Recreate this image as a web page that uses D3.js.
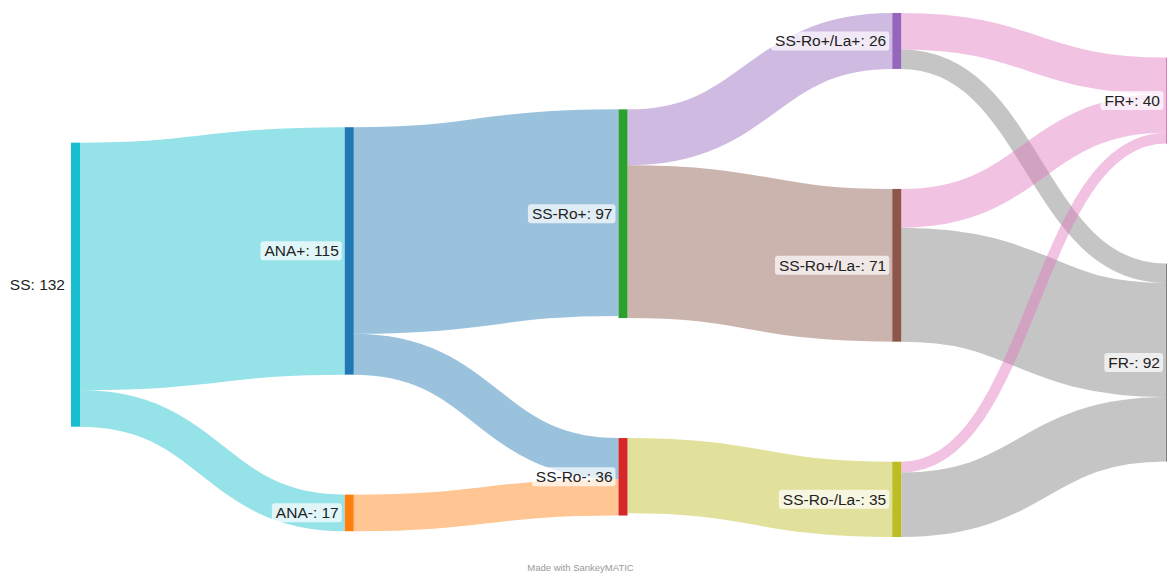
<!DOCTYPE html>
<html>
<head>
<meta charset="utf-8">
<script src="https://cdn.jsdelivr.net/npm/d3@7"></script>
<style>
  html, body { margin: 0; padding: 0; background: #fff; }
  svg { display: block; }
</style>
</head>
<body>
<svg id="chart" width="1167" height="577"></svg>
<script>
// ---------------- DATA ----------------
const nodeNames = ["SS", "ANA+", "ANA-", "SS-Ro+", "SS-Ro-", "SS-Ro+/La+", "SS-Ro+/La-", "SS-Ro-/La-", "FR+", "FR-"];
const linkSources = ["SS", "SS", "ANA+", "ANA+", "ANA-", "SS-Ro+", "SS-Ro+", "SS-Ro-", "SS-Ro+/La+", "SS-Ro+/La+", "SS-Ro+/La-", "SS-Ro+/La-", "SS-Ro-/La-", "SS-Ro-/La-"];
const linkTargets = ["ANA+", "ANA-", "SS-Ro+", "SS-Ro-", "SS-Ro-", "SS-Ro+/La+", "SS-Ro+/La-", "SS-Ro-/La-", "FR+", "FR-", "FR+", "FR-", "FR+", "FR-"];
const linkValues  = [115, 17, 96, 19, 17, 26, 71, 35, 17, 9, 18, 53, 5, 30];
const footerText = "Made with SankeyMATIC";

// ---------------- STYLE / LAYOUT SETTINGS ----------------
const W = 1167, H = 577;
const extent = { x0: 71, x1: 1175, y0: 13, y1: 537 };
const nodeWidth = 9;
const nodePadding = 120;
const iterations = 400;
const colorOrder = ["ANA+", "ANA-", "SS-Ro+", "SS-Ro-", "SS-Ro+/La+", "SS-Ro+/La-", "FR+", "FR-", "SS-Ro-/La-", "SS"];
const color = d3.scaleOrdinal().domain(colorOrder).range(d3.schemeCategory10);

// ---------------- SANKEY LAYOUT ----------------
const nodes = nodeNames.map((name, i) => ({ name, index: i, sourceLinks: [], targetLinks: [] }));
const byName = new Map(nodes.map(n => [n.name, n]));
const links = linkValues.map((v, i) => ({
  index: i, value: v, source: byName.get(linkSources[i]), target: byName.get(linkTargets[i])
}));
links.forEach(l => { l.source.sourceLinks.push(l); l.target.targetLinks.push(l); });
nodes.forEach(n => n.value = Math.max(d3.sum(n.sourceLinks, l => l.value), d3.sum(n.targetLinks, l => l.value)));

// depths / layers (justify)
let nLayers = 0;
{
  let current = new Set(nodes), next = new Set();
  while (current.size) {
    for (const n of current) { n.depth = nLayers; for (const l of n.sourceLinks) next.add(l.target); }
    nLayers++; current = next; next = new Set();
  }
}
nodes.forEach(n => n.layer = n.sourceLinks.length ? n.depth : nLayers - 1);

const xScale = d3.scaleLinear().domain([0, nLayers - 1]).range([extent.x0, extent.x1 - nodeWidth]);
const columns = d3.range(nLayers).map(() => []);
nodes.forEach(n => { columns[n.layer].push(n); n.x0 = xScale(n.layer); n.x1 = n.x0 + nodeWidth; });

const py = Math.min(nodePadding, (extent.y1 - extent.y0) / (d3.max(columns, c => c.length) - 1));
const ky = d3.min(columns, c => (extent.y1 - extent.y0 - (c.length - 1) * py) / d3.sum(c, n => n.value));
const hScale = d3.scaleLinear().domain([0, 1]).range([0, ky]);
links.forEach(l => l.width = hScale(l.value));

const byBreadth = (a, b) => a.y0 - b.y0;
function sortAllLinks() {
  for (const n of nodes) {
    n.sourceLinks.sort((a, b) => byBreadth(a.target, b.target) || a.index - b.index);
    n.targetLinks.sort((a, b) => byBreadth(a.source, b.source) || a.index - b.index);
  }
}
const offsetIn = (list, link) => { let o = 0; for (const l of list) { if (l === link) break; o += l.width; } return o; };

// initial stacking
for (const col of columns) {
  let y = extent.y0;
  for (const n of col) { n.y0 = y; n.y1 = y + hScale(n.value); y = n.y1 + py; }
}

// least-squares relaxation: each column placed so links are as straight as possible,
// with non-overlap (padding) constraints solved by pooling adjacent violators.
function placeColumn(col) {
  sortAllLinks();
  const items = col.map(n => {
    let s = 0, w = 0;
    for (const l of n.targetLinks) {
      s += l.value * (l.source.y0 + offsetIn(l.source.sourceLinks, l) - offsetIn(n.targetLinks, l)); w += l.value;
    }
    for (const l of n.sourceLinks) {
      s += l.value * (l.target.y0 + offsetIn(l.target.targetLinks, l) - offsetIn(n.sourceLinks, l)); w += l.value;
    }
    return { n, d: w ? s / w : n.y0, w: w || 1e-9 };
  });
  items.sort((a, b) => a.d - b.d);
  let off = 0;
  items.forEach(it => { it.off = off; off += hScale(it.n.value) + py; });
  const last = items[items.length - 1];
  const lo = extent.y0;
  const hi = extent.y1 - last.off - hScale(last.n.value);
  const blocks = [];
  for (const it of items) {
    blocks.push({ v: it.d - it.off, w: it.w, items: [it] });
    while (blocks.length > 1 && blocks[blocks.length - 2].v > blocks[blocks.length - 1].v) {
      const b = blocks.pop(), a = blocks[blocks.length - 1];
      a.v = (a.v * a.w + b.v * b.w) / (a.w + b.w); a.w += b.w; a.items.push(...b.items);
    }
  }
  for (const b of blocks) {
    const z = Math.max(lo, Math.min(hi, b.v));
    for (const it of b.items) { it.n.y0 = z + it.off; it.n.y1 = it.n.y0 + hScale(it.n.value); }
  }
  col.sort(byBreadth);
}
for (let i = 0; i < iterations; i++) {
  if (i % 2 === 0) columns.forEach(placeColumn);
  else columns.slice().reverse().forEach(placeColumn);
}
sortAllLinks();
for (const n of nodes) {
  let a = n.y0, b = n.y0;
  for (const l of n.sourceLinks) { l.y0 = a + l.width / 2; a += l.width; }
  for (const l of n.targetLinks) { l.y1 = b + l.width / 2; b += l.width; }
}

// ---------------- DRAW ----------------
const svg = d3.select("#chart");
const midLayer = (nLayers - 1) / 2;
const linkColor = l => l.target.layer <= midLayer ? color(l.source.name) : color(l.target.name);
const linkPath = d3.linkHorizontal().source(l => [l.source.x1, l.y0]).target(l => [l.target.x0, l.y1]);

svg.append("g").attr("fill", "none")
  .selectAll("path").data(links).join("path")
  .attr("d", linkPath)
  .attr("stroke", linkColor)
  .attr("stroke-opacity", 0.45)
  .attr("stroke-width", l => Math.max(1, l.width));

svg.append("g").selectAll("rect").data(nodes).join("rect")
  .attr("x", n => n.x0).attr("y", n => n.y0)
  .attr("width", n => n.x1 - n.x0).attr("height", n => n.y1 - n.y0)
  .attr("fill", n => color(n.name));

const labels = svg.append("g")
  .attr("font-family", "'Liberation Sans', Arial, Helvetica, sans-serif")
  .attr("font-size", 15.5)
  .selectAll("g").data(nodes).join("g");

labels.append("rect").attr("class", "bg");
labels.append("text")
  .attr("x", n => n.x0 - 6)
  .attr("y", n => (n.y0 + n.y1) / 2)
  .attr("dy", "0.35em")
  .attr("text-anchor", "end")
  .attr("fill", "#222")
  .text(n => `${n.name}: ${n.value}`);

labels.each(function () {
  const g = d3.select(this);
  const bb = g.select("text").node().getBBox();
  g.select("rect.bg")
    .attr("x", bb.x - 4).attr("y", bb.y - 1)
    .attr("width", bb.width + 7).attr("height", bb.height + 2)
    .attr("rx", 3).attr("fill", "#fff").attr("fill-opacity", 0.7);
});

svg.append("text")
  .attr("x", W / 2 - 3).attr("y", 571)
  .attr("text-anchor", "middle")
  .attr("font-family", "'Liberation Sans', Arial, sans-serif")
  .attr("font-size", 9.5)
  .attr("fill", "#999")
  .text(footerText);
</script>
</body>
</html>
